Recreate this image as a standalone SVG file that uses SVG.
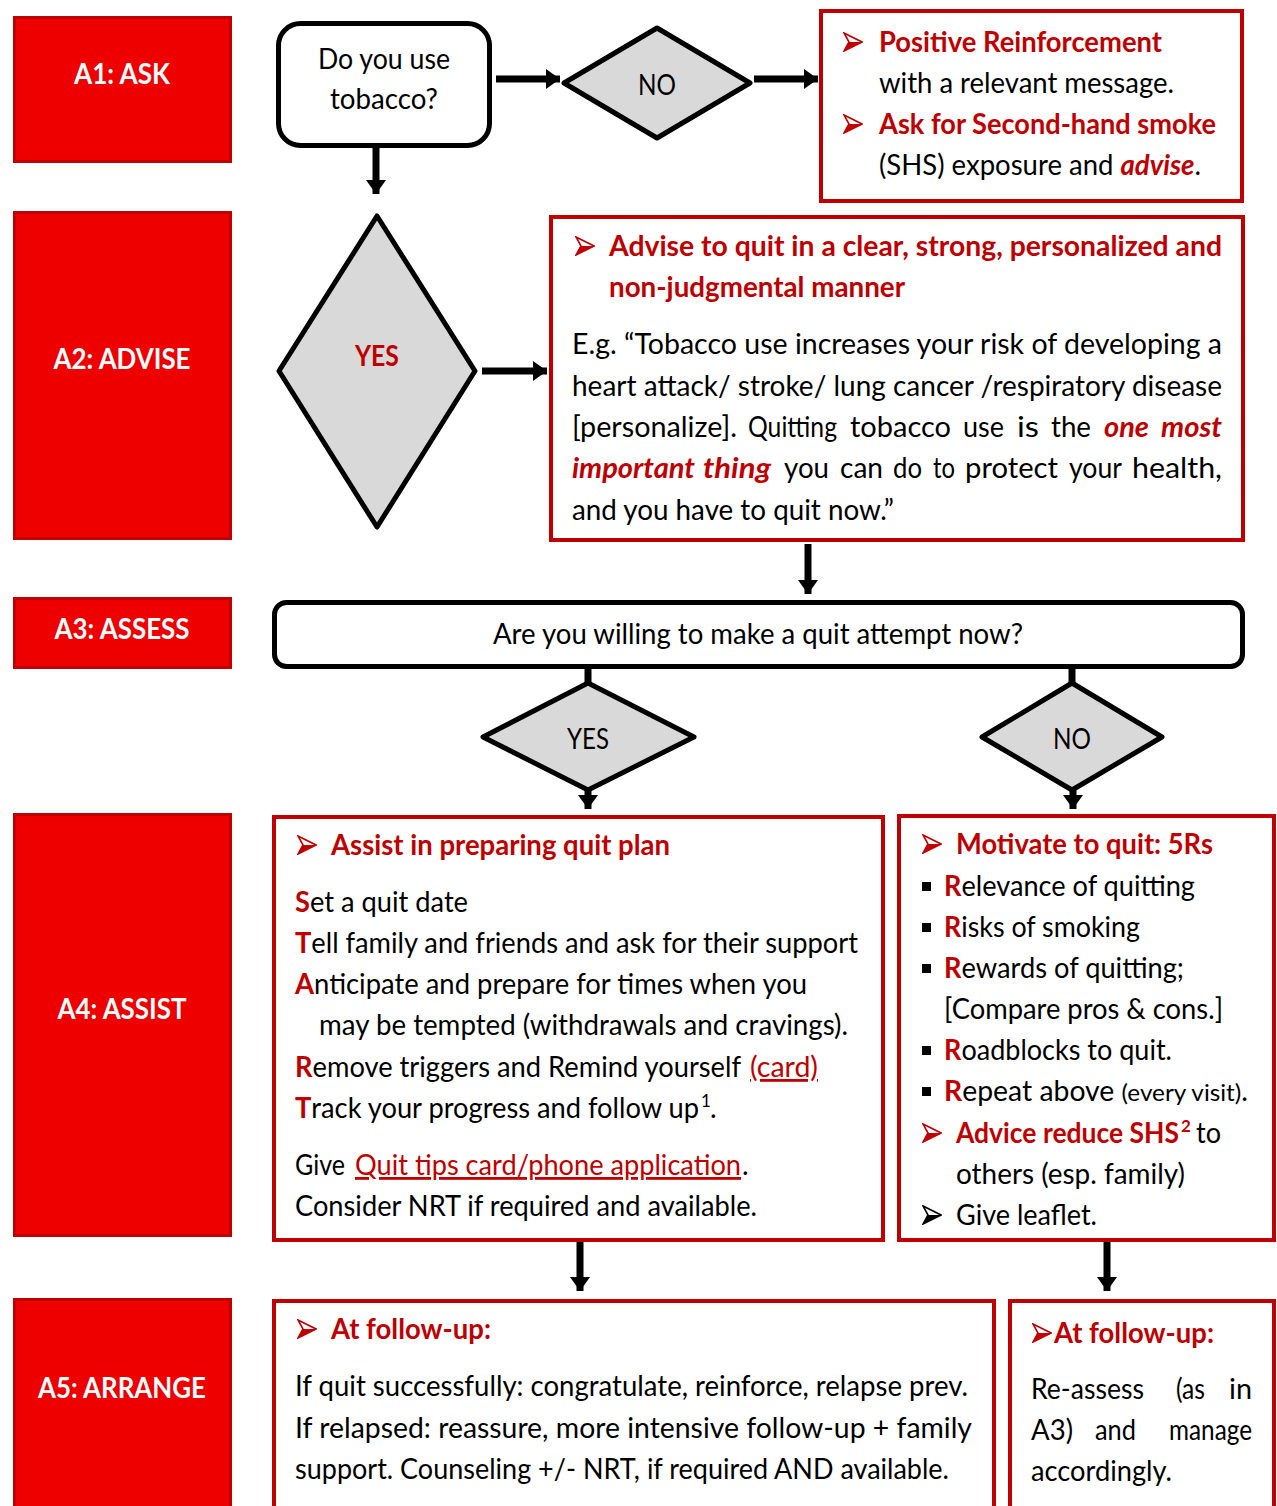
<svg xmlns="http://www.w3.org/2000/svg" xmlns:xlink="http://www.w3.org/1999/xlink" width="1277" height="1506" viewBox="0 0 1277 1506">
<style>
.t{font-family:Lato,"Open Sans","Liberation Sans",sans-serif;font-size:28px;fill:#000}
.r{fill:#C00000;font-weight:bold}
.lbl{fill:#fff;font-weight:bold;text-anchor:middle}
.c{text-anchor:middle}
.bi{fill:#C00000;font-weight:bold;font-style:italic}
.ul{fill:#C00000;text-decoration:underline}
.sup{font-size:17px}
.stage{fill:#EE0000;stroke:#C00000;stroke-width:3}
.rbox{fill:#fff;stroke:#C00000;stroke-width:4}
.qbox{fill:#fff;stroke:#000;stroke-width:5}
.dia{fill:#D9D9D9;stroke:#000;stroke-width:5;stroke-linejoin:round}
.con{stroke:#000;stroke-width:7;fill:none}
</style>
<defs>
<marker id="ah" markerUnits="userSpaceOnUse" markerWidth="14" markerHeight="20" refX="14" refY="10" orient="auto">
<path d="M0,0 L14,10 L0,20 Z" fill="#000"/>
</marker>
<symbol id="bul" viewBox="0 0 20 20">
<path d="M1,1 L19,10 L1,19 L6,10 Z" fill="none" stroke="currentColor" stroke-width="1.6" stroke-linejoin="miter"/>
<path d="M1,19 L19,10 L6,10 Z" fill="currentColor"/>
</symbol>
</defs>

<!-- stage labels -->
<g id="A1"><rect class="stage" x="14.5" y="17.5" width="216" height="144"/><text class="t lbl" x="122" y="84" textLength="96" lengthAdjust="spacingAndGlyphs">A1: ASK</text></g>
<g id="A2"><rect class="stage" x="14.5" y="212.5" width="216" height="326"/><text class="t lbl" x="122" y="369" textLength="137" lengthAdjust="spacingAndGlyphs">A2: ADVISE</text></g>
<g id="A3"><rect class="stage" x="14.5" y="598.5" width="216" height="69"/><text class="t lbl" x="122" y="639" textLength="135" lengthAdjust="spacingAndGlyphs">A3: ASSESS</text></g>
<g id="A4"><rect class="stage" x="14.5" y="814.5" width="216" height="421"/><text class="t lbl" x="122" y="1019" textLength="129" lengthAdjust="spacingAndGlyphs">A4: ASSIST</text></g>
<g id="A5"><rect class="stage" x="14.5" y="1299.5" width="216" height="230"/><text class="t lbl" x="122" y="1398" textLength="168" lengthAdjust="spacingAndGlyphs">A5: ARRANGE</text></g>

<!-- connectors -->
<g id="connectors">
<path class="con" d="M496,79 H560" marker-end="url(#ah)"/>
<path class="con" d="M754,79 H818" marker-end="url(#ah)"/>
<path class="con" d="M376,148 V194" marker-end="url(#ah)"/>
<path class="con" d="M482,371 H547" marker-end="url(#ah)"/>
<path class="con" d="M808,544 V594" marker-end="url(#ah)"/>
<path class="con" d="M588,668 V684"/>
<path class="con" d="M1072,668 V684"/>
<path class="con" d="M588,790 V809" marker-end="url(#ah)"/>
<path class="con" d="M1073,790 V809" marker-end="url(#ah)"/>
<path class="con" d="M580,1241 V1291" marker-end="url(#ah)"/>
<path class="con" d="M1107,1241 V1291" marker-end="url(#ah)"/>
</g>

<g id="ask">
<rect class="qbox" x="278.5" y="23.5" width="211" height="122" rx="22"/>
<text class="t c" x="384" y="69" textLength="132" lengthAdjust="spacingAndGlyphs">Do you use</text>
<text class="t c" x="384" y="109" textLength="108" lengthAdjust="spacingAndGlyphs">tobacco?</text>
</g>

<g id="no1">
<polygon class="dia" points="657,28 750,83 657,138 564,83"/>
<text class="t c" x="657" y="95" textLength="38" lengthAdjust="spacingAndGlyphs">NO</text>
</g>

<g id="positive">
<rect class="rbox" x="821" y="11" width="421" height="190"/>
<use href="#bul" x="843" y="32" width="20" height="20" color="#C00000"/>
<text class="t r" x="879" y="52" textLength="283" lengthAdjust="spacingAndGlyphs">Positive Reinforcement</text>
<text class="t" x="879" y="93" textLength="295" lengthAdjust="spacingAndGlyphs">with a relevant message.</text>
<use href="#bul" x="843" y="114" width="20" height="20" color="#C00000"/>
<text class="t r" x="879" y="134" textLength="337" lengthAdjust="spacingAndGlyphs">Ask for Second-hand smoke</text>
<text class="t" x="879" y="175" textLength="322" lengthAdjust="spacingAndGlyphs">(SHS) exposure and <tspan class="bi">advise</tspan>.</text>
</g>

<g id="yes1">
<polygon class="dia" points="377,216 475,371 377,527 279,371"/>
<text class="t r c" x="377" y="366" textLength="44" lengthAdjust="spacingAndGlyphs">YES</text>
</g>

<g id="advise">
<rect class="rbox" x="551" y="217" width="692" height="323"/>
<use href="#bul" x="575" y="236" width="20" height="20" color="#C00000"/>
<text class="t r" x="609" y="256" textLength="613" lengthAdjust="spacingAndGlyphs">Advise to quit in a clear, strong, personalized and</text>
<text class="t r" x="609" y="297" textLength="296" lengthAdjust="spacingAndGlyphs">non-judgmental manner</text>
<text class="t" x="572" y="354" textLength="650" lengthAdjust="spacingAndGlyphs">E.g. “Tobacco use increases your risk of developing a</text>
<text class="t" x="572" y="396" textLength="650" lengthAdjust="spacingAndGlyphs">heart attack/ stroke/ lung cancer /respiratory disease</text>
<g class="t">
<text class="t" x="572" y="437" textLength="165" lengthAdjust="spacingAndGlyphs">[personalize].</text>
<text class="t" x="748" y="437" textLength="89" lengthAdjust="spacingAndGlyphs">Quitting</text>
<text class="t" x="850" y="437" textLength="101" lengthAdjust="spacingAndGlyphs">tobacco</text>
<text class="t" x="963" y="437" textLength="41" lengthAdjust="spacingAndGlyphs">use</text>
<text class="t" x="1017" y="437" textLength="22" lengthAdjust="spacingAndGlyphs">is</text>
<text class="t" x="1051" y="437" textLength="40" lengthAdjust="spacingAndGlyphs">the</text>
<text class="t bi" x="1104" y="437" textLength="45" lengthAdjust="spacingAndGlyphs">one</text>
<text class="t bi" x="1161" y="437" textLength="61" lengthAdjust="spacingAndGlyphs">most</text>
<text class="t bi" x="572" y="478" textLength="123" lengthAdjust="spacingAndGlyphs">important</text>
<text class="t bi" x="703" y="478" textLength="68" lengthAdjust="spacingAndGlyphs">thing</text>
<text class="t" x="784" y="478" textLength="45" lengthAdjust="spacingAndGlyphs">you</text>
<text class="t" x="840" y="478" textLength="43" lengthAdjust="spacingAndGlyphs">can</text>
<text class="t" x="893" y="478" textLength="29" lengthAdjust="spacingAndGlyphs">do</text>
<text class="t" x="933" y="478" textLength="22" lengthAdjust="spacingAndGlyphs">to</text>
<text class="t" x="965" y="478" textLength="93" lengthAdjust="spacingAndGlyphs">protect</text>
<text class="t" x="1069" y="478" textLength="53" lengthAdjust="spacingAndGlyphs">your</text>
<text class="t" x="1132" y="478" textLength="90" lengthAdjust="spacingAndGlyphs">health,</text>
</g>
<text class="t" x="572" y="520" textLength="322" lengthAdjust="spacingAndGlyphs">and you have to quit now.”</text>
</g>

<g id="assess">
<rect class="qbox" x="274.5" y="602.5" width="968" height="64" rx="12"/>
<text class="t c" x="758" y="644" textLength="530" lengthAdjust="spacingAndGlyphs">Are you willing to make a quit attempt now?</text>
</g>

<g id="yes2">
<polygon class="dia" points="588,683 694,737 588,790 483,737"/>
<text class="t c" x="588" y="749" textLength="42" lengthAdjust="spacingAndGlyphs">YES</text>
</g>
<g id="no2">
<polygon class="dia" points="1072,683 1162,737 1072,790 982,737"/>
<text class="t c" x="1072" y="749" textLength="38" lengthAdjust="spacingAndGlyphs">NO</text>
</g>

<g id="assist">
<rect class="rbox" x="274" y="817" width="609" height="423"/>
<use href="#bul" x="297" y="835" width="20" height="20" color="#C00000"/>
<text class="t r" x="331" y="855" textLength="339" lengthAdjust="spacingAndGlyphs">Assist in preparing quit plan</text>
<text class="t" x="295" y="912" textLength="173" lengthAdjust="spacingAndGlyphs"><tspan class="r">S</tspan>et a quit date</text>
<text class="t" x="295" y="953" textLength="563" lengthAdjust="spacingAndGlyphs"><tspan class="r">T</tspan>ell family and friends and ask for their support</text>
<text class="t" x="295" y="994" textLength="512" lengthAdjust="spacingAndGlyphs"><tspan class="r">A</tspan>nticipate and prepare for times when you</text>
<text class="t" x="319" y="1035" textLength="529" lengthAdjust="spacingAndGlyphs">may be tempted (withdrawals and cravings).</text>
<text class="t" x="295" y="1077" textLength="446" lengthAdjust="spacingAndGlyphs"><tspan class="r">R</tspan>emove triggers and Remind yourself</text>
<text class="t ul" x="750" y="1077" textLength="68" lengthAdjust="spacingAndGlyphs">(card)</text>
<text class="t" x="295" y="1118" textLength="404" lengthAdjust="spacingAndGlyphs"><tspan class="r">T</tspan>rack your progress and follow up</text>
<text class="t sup" x="701" y="1107">1</text>
<text class="t" x="710" y="1118">.</text>
<text class="t" x="295" y="1175" textLength="50" lengthAdjust="spacingAndGlyphs">Give</text>
<text class="t ul" x="355" y="1175" textLength="386" lengthAdjust="spacingAndGlyphs">Quit tips card/phone application</text>
<text class="t" x="742" y="1175">.</text>
<text class="t" x="295" y="1216" textLength="462" lengthAdjust="spacingAndGlyphs">Consider NRT if required and available.</text>
</g>

<g id="motivate">
<rect class="rbox" x="899" y="816" width="375" height="424"/>
<use href="#bul" x="922" y="834" width="20" height="20" color="#C00000"/>
<text class="t r" x="956" y="854" textLength="257" lengthAdjust="spacingAndGlyphs">Motivate to quit: 5Rs</text>
<rect x="922" y="882" width="9" height="9"/>
<text class="t" x="944" y="896" textLength="251" lengthAdjust="spacingAndGlyphs"><tspan class="r">R</tspan>elevance of quitting</text>
<rect x="922" y="923" width="9" height="9"/>
<text class="t" x="944" y="937" textLength="196" lengthAdjust="spacingAndGlyphs"><tspan class="r">R</tspan>isks of smoking</text>
<rect x="922" y="964" width="9" height="9"/>
<text class="t" x="944" y="978" textLength="240" lengthAdjust="spacingAndGlyphs"><tspan class="r">R</tspan>ewards of quitting;</text>
<text class="t" x="944" y="1019" textLength="279" lengthAdjust="spacingAndGlyphs">[Compare pros &amp; cons.]</text>
<rect x="922" y="1046" width="9" height="9"/>
<text class="t" x="944" y="1060" textLength="228" lengthAdjust="spacingAndGlyphs"><tspan class="r">R</tspan>oadblocks to quit.</text>
<rect x="922" y="1087" width="9" height="9"/>
<text class="t" x="944" y="1101" textLength="304" lengthAdjust="spacingAndGlyphs"><tspan class="r">R</tspan>epeat above <tspan font-size="24">(every visit)</tspan>.</text>
<use href="#bul" x="922" y="1123" width="20" height="20" color="#C00000"/>
<text class="t r" x="956" y="1143" textLength="223" lengthAdjust="spacingAndGlyphs">Advice reduce SHS</text>
<text class="t r sup" x="1181" y="1132">2</text>
<text class="t" x="1196" y="1143" textLength="25" lengthAdjust="spacingAndGlyphs">to</text>
<text class="t" x="956" y="1184" textLength="229" lengthAdjust="spacingAndGlyphs">others (esp. family)</text>
<use href="#bul" x="922" y="1205" width="20" height="20" color="#000"/>
<text class="t" x="956" y="1225" textLength="141" lengthAdjust="spacingAndGlyphs">Give leaflet.</text>
</g>

<g id="followup1">
<rect class="rbox" x="274" y="1301" width="720" height="230"/>
<use href="#bul" x="297" y="1319" width="20" height="20" color="#C00000"/>
<text class="t r" x="331" y="1339" textLength="160" lengthAdjust="spacingAndGlyphs">At follow-up:</text>
<text class="t" x="295" y="1396" textLength="673" lengthAdjust="spacingAndGlyphs">If quit successfully: congratulate, reinforce, relapse prev.</text>
<text class="t" x="295" y="1438" textLength="677" lengthAdjust="spacingAndGlyphs">If relapsed: reassure, more intensive follow-up + family</text>
<text class="t" x="295" y="1479" textLength="654" lengthAdjust="spacingAndGlyphs">support. Counseling +/- NRT, if required AND available.</text>
</g>

<g id="followup2">
<rect class="rbox" x="1010" y="1301" width="264" height="230"/>
<use href="#bul" x="1032" y="1323" width="20" height="20" color="#C00000"/>
<text class="t r" x="1054" y="1343" textLength="160" lengthAdjust="spacingAndGlyphs">At follow-up:</text>
<text class="t" x="1031" y="1399" textLength="113" lengthAdjust="spacingAndGlyphs">Re-assess</text>
<text class="t" x="1176" y="1399" textLength="29" lengthAdjust="spacingAndGlyphs">(as</text>
<text class="t" x="1229" y="1399" textLength="23" lengthAdjust="spacingAndGlyphs">in</text>
<text class="t" x="1031" y="1440" textLength="42" lengthAdjust="spacingAndGlyphs">A3)</text>
<text class="t" x="1095" y="1440" textLength="41" lengthAdjust="spacingAndGlyphs">and</text>
<text class="t" x="1169" y="1440" textLength="83" lengthAdjust="spacingAndGlyphs">manage</text>
<text class="t" x="1031" y="1481" textLength="141" lengthAdjust="spacingAndGlyphs">accordingly.</text>
</g>
</svg>
